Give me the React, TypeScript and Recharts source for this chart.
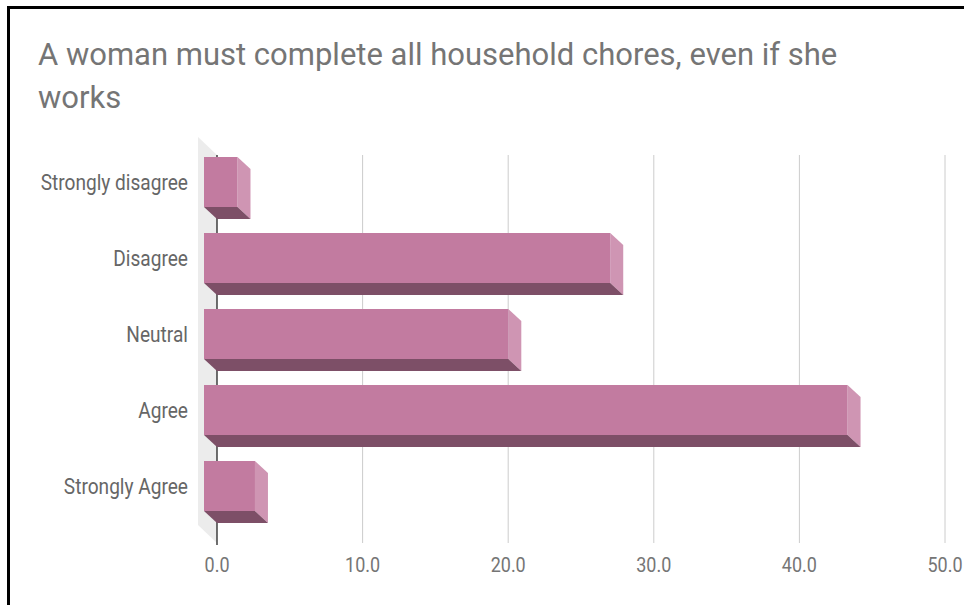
import React from "react";
import { BarChart, Bar, XAxis, YAxis, CartesianGrid } from "recharts";

const categories = ["Strongly disagree", "Disagree", "Neutral", "Agree", "Strongly Agree"];
const values = [2.3, 27.9, 20.9, 44.2, 3.5];
const xTicks = [0, 10, 20, 30, 40, 50];
const titleLines = ["A woman must complete all household chores, even if she", "works"];

const data = categories.map((c, i) => ({ category: c, value: values[i] }));

const FRONT = "#c27ba0";
const SIDE = "#cf95b3";
const BOTTOM = "#7d4f67";
const WALL = "#ececec";
const DX = 13;
const DY = 12;
const FONT = "Roboto, 'Noto Sans', sans-serif";
const STRETCH = 1.15;

const Bar3D = (props: any) => {
  const { x, y, width, height } = props;
  if (width == null || height == null) return null;
  const fx = x - DX;
  const fy = y - DY;
  const side = `${fx + width},${fy} ${x + width},${y} ${x + width},${y + height} ${fx + width},${fy + height}`;
  const bottom = `${fx},${fy + height} ${fx + width},${fy + height} ${x + width},${y + height} ${x},${y + height}`;
  return (
    <g>
      <polygon points={side} fill={SIDE} />
      <polygon points={bottom} fill={BOTTOM} />
      <rect x={fx} y={fy} width={width} height={height} fill={FRONT} />
    </g>
  );
};

const gridLine = (props: any) => {
  const { x1, y1, x2, y2, index } = props;
  if (index === 0) {
    const wall = `${x1 - 19},${y1 - 18} ${x1},${y1} ${x2},${y2} ${x2 - 19},${y2 - 18}`;
    return (
      <g key={`g-${index}`}>
        <polygon points={wall} fill={WALL} />
        <line x1={x1} y1={y1} x2={x2} y2={y2 + 2} stroke="#222" strokeWidth={1.3} />
      </g>
    );
  }
  return <line key={`g-${index}`} x1={x1} y1={y1} x2={x2} y2={y2} stroke="#cccccc" strokeWidth={1} />;
};

const YTick = (props: any) => {
  const { x, y, payload } = props;
  return (
    <text
      transform={`translate(${x},${y - DY + 1}) scale(1,${STRETCH})`}
      x={0}
      y={0}
      textAnchor="end"
      dominantBaseline="central"
      fill="#666666"
      fontSize={19.1}
      fontFamily={FONT}
    >
      {payload.value}
    </text>
  );
};

const XTick = (props: any) => {
  const { x, y, payload } = props;
  return (
    <text
      transform={`translate(${x},${y + 14}) scale(1,${STRETCH})`}
      x={0}
      y={0}
      textAnchor="middle"
      dominantBaseline="central"
      fill="#757575"
      fontSize={18}
      fontFamily={FONT}
    >
      {Number(payload.value).toFixed(1)}
    </text>
  );
};

export default function App() {
  return (
    <div style={{ position: "absolute", left: 0, top: 0, width: 964, height: 605, overflow: "hidden", background: "#fff" }}>
      <div
        style={{
          position: "absolute",
          left: 7,
          top: 6,
          width: 980,
          height: 620,
          borderLeft: "3px solid #000",
          borderTop: "3px solid #000",
          boxSizing: "border-box",
        }}
      />
      <div
        style={{
          position: "absolute",
          left: 38,
          top: 33,
          fontFamily: FONT,
          fontSize: 31,
          lineHeight: "43px",
          color: "#757575",
          whiteSpace: "nowrap",
        }}
      >
        {titleLines.map((t, i) => (
          <div key={i}>{t}</div>
        ))}
      </div>
      <div style={{ position: "absolute", left: 0, top: 0 }}>
        <BarChart
          width={964}
          height={605}
          data={data}
          layout="vertical"
          margin={{ top: 155, right: 19, bottom: 32, left: 0 }}
          barSize={50}
        >
          <CartesianGrid horizontal={false} vertical={gridLine} />
          <XAxis
            type="number"
            domain={[0, 50]}
            ticks={xTicks}
            axisLine={false}
            tickLine={false}
            height={30}
            tick={<XTick />}
            interval={0}
          />
          <YAxis
            type="category"
            dataKey="category"
            width={217}
            axisLine={false}
            tickLine={false}
            tickSize={0}
            tickMargin={29}
            padding={{ top: 1, bottom: 7 }}
            tick={<YTick />}
            interval={0}
          />
          <Bar dataKey="value" shape={<Bar3D />} isAnimationActive={false} />
        </BarChart>
      </div>
    </div>
  );
}
